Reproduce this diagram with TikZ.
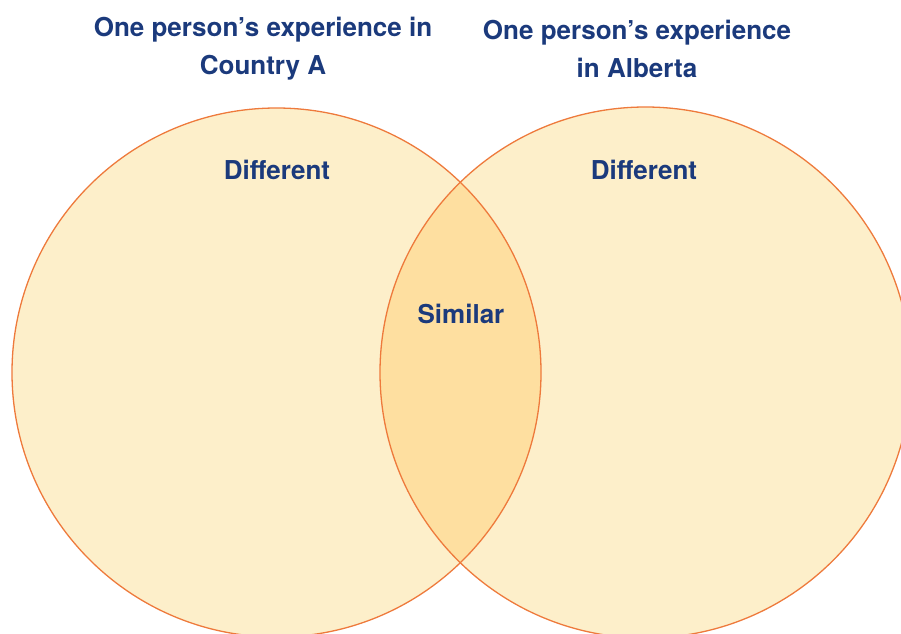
\documentclass[tikz,border=0pt]{standalone}
\usepackage{fontspec}
\setmainfont{TeX Gyre Heros}
\usepackage{xcolor}
\definecolor{vennfill}{HTML}{FDEFCA}
\definecolor{vennmid}{HTML}{FEDFA0}
\definecolor{vennline}{HTML}{EE7A3C}
\definecolor{venntext}{HTML}{1B3A7C}

\begin{document}
\begin{tikzpicture}[x=1pt,y=-1pt,
    label/.style={text=venntext, font=\fontsize{26}{38}\selectfont\bfseries, align=center}]
    \useasboundingbox (0,0) rectangle (901,633);
    \clip (0,0) rectangle (901,633);

    % Circles
    \fill[vennfill] (276.5,372.5) circle[radius=264.5];
    \fill[vennfill] (645.5,372.5) circle[radius=265.5];
    \begin{scope}
        \clip (276.5,372.5) circle[radius=264.5];
        \fill[vennmid] (645.5,372.5) circle[radius=265.5];
    \end{scope}
    \draw[vennline, line width=1.3pt] (276.5,372.5) circle[radius=264.5];
    \draw[vennline, line width=1.3pt] (645.5,372.5) circle[radius=265.5];

    % Titles
    \node[label] (titleA) at (263,48.5) {One person’s experience in\\Country A};
    \node[label] (titleB) at (637,48.5) {One person’s experience\\in Alberta};

    % Regions
    \node[label] (diffA) at (277,170) {Different};
    \node[label] (diffB) at (644,170) {Different};
    \node[label] (similar) at (461,314) {Similar};
\end{tikzpicture}
\end{document}
